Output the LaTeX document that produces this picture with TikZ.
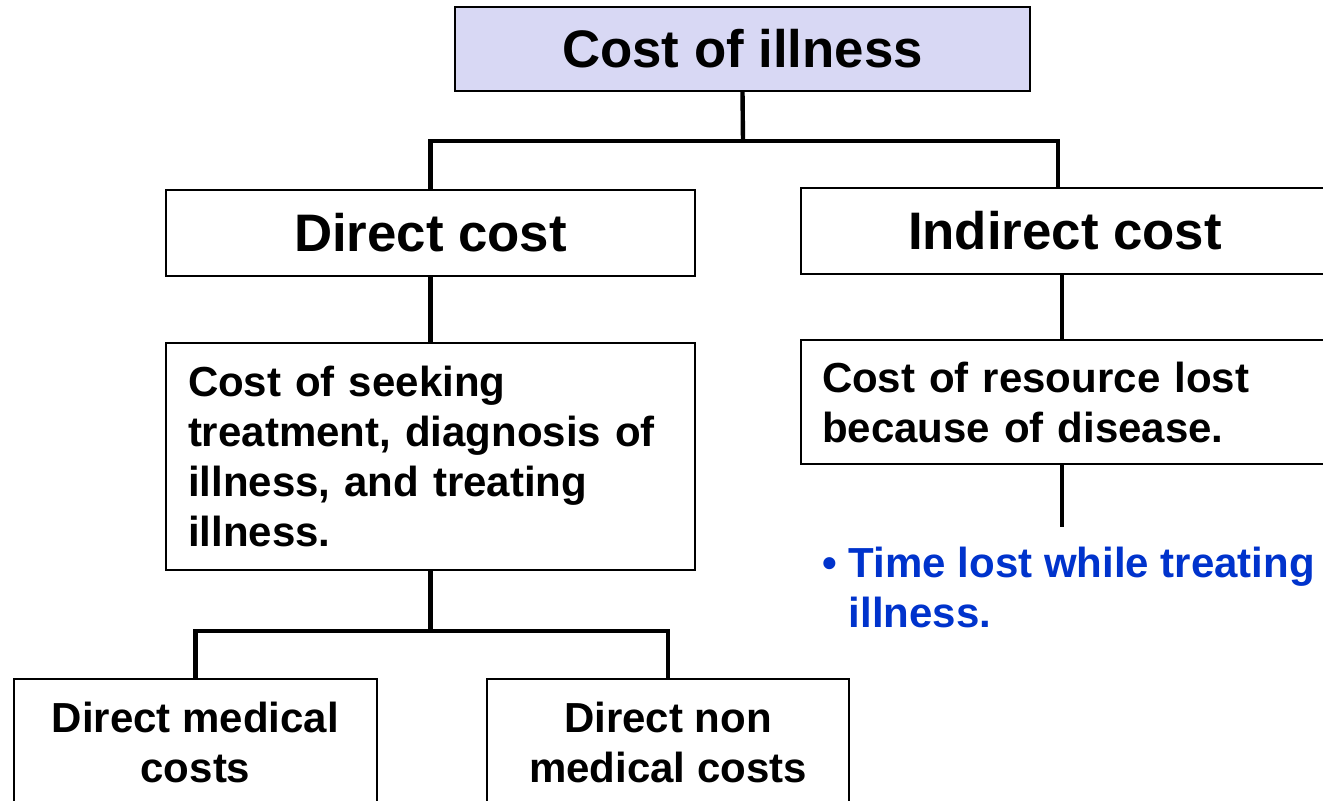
\documentclass[tikz,border=0pt]{standalone}
\usepackage{fontspec}
\setmainfont{Liberation Sans}
\usepackage{xcolor}
\usepackage{tikz}
\definecolor{lavender}{RGB}{216,216,244}
\definecolor{bulletblue}{RGB}{0,51,204}
\tikzset{
  box/.style={draw, line width=0.8pt, inner sep=0pt, align=center, font=\bfseries\fontsize{21}{25}\selectfont},
  bigbox/.style={box, font=\bfseries\fontsize{26.4}{30}\selectfont},
  link/.style={line width=2.2pt},
}

\begin{document}
\begin{tikzpicture}[x=0.5pt, y=-0.5pt]
    \useasboundingbox (0,0) rectangle (1323,801);
    \clip (0,0) rectangle (1323,801);
    \node[bigbox, fill=lavender, minimum width=287.5pt, minimum height=42pt] (illness) at (742.5,49) {Cost of illness};
    \node[bigbox, minimum width=264.5pt, minimum height=43pt] (direct) at (430.5,233) {Direct cost};
    \node[bigbox, minimum width=264pt, minimum height=43pt] (indirect) at (1065,231) {Indirect cost};
    \node[box, align=left, text width=242.5pt, inner xsep=11pt, minimum height=113.5pt] (seeking) at (430.5,456.5) {Cost of seeking\\ treatment, diagnosis of\\ illness, and treating\\ illness.};
    \node[box, align=left, text width=243pt, inner xsep=10.5pt, minimum height=62pt] (resource) at (1065,402) {Cost of resource lost\\ because of disease.};
    \node[anchor=west, inner sep=0pt, align=left, text=bulletblue, font=\bfseries\fontsize{21}{25}\selectfont] (timelost) at (822,587) {\textbullet\ Time lost while treating\\ \hphantom{\textbullet\ }illness.};
    \node[box, minimum width=181.5pt, minimum height=63pt] (medical) at (195.5,742) {Direct medical\\ costs};
    \node[box, minimum width=181pt, minimum height=63pt] (nonmed) at (668,742) {Direct non\\ medical costs};
    \coordinate (fork) at (743,141);
    \coordinate (fork2) at (430.5,631);
    \coordinate (stub) at (1062,527);
    \draw[link] (illness.south) -- (fork);
    \draw[link] (direct.north) |- (fork) -| ([xshift=-3.5pt]indirect.north);
    \draw[link] (direct) -- (seeking);
    \draw[link] ([xshift=-1.5pt]indirect.south) -- ([xshift=-1.5pt]resource.north);
    \draw[link] (resource.south -| stub) -- (stub);
    \draw[link] (seeking) -- (fork2);
    \draw[link] (medical.north) |- (fork2) -| (nonmed.north);
\end{tikzpicture}
\end{document}
